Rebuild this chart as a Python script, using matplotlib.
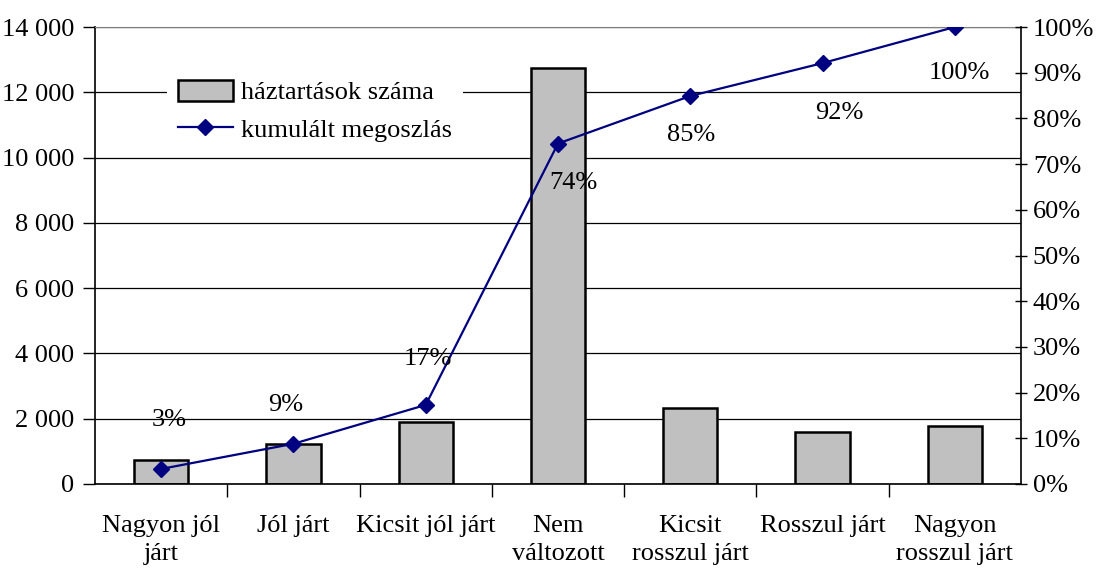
import matplotlib.pyplot as plt
from matplotlib.ticker import FuncFormatter, MultipleLocator

plt.rcParams['font.family'] = ['Liberation Serif', 'DejaVu Serif']
plt.rcParams['font.size'] = 19

categories = ['Nagyon jól\njárt', 'Jól járt', 'Kicsit jól járt', 'Nem\nváltozott',
              'Kicsit\nrosszul járt', 'Rosszul járt', 'Nagyon\nrosszul járt']
households = [730, 1230, 1890, 12740, 2315, 1585, 1765]
cumulative = [3.3, 8.8, 17.3, 74.5, 84.9, 92.1, 100.0]
# label offsets (pixels) as placed in the original chart
label_offsets = [(8, 49), (-8, 39), (2, 46), (15, -39), (1, -39), (17, -50), (5, -46)]

fig = plt.figure(figsize=(11, 5.68), dpi=100)
ax = fig.add_axes([95 / 1100, 84 / 568, 926 / 1100, 457 / 568])
x = list(range(len(categories)))

ax.set_axisbelow(True)
ax.grid(axis='y', color='black', linewidth=0.9)
bars = ax.bar(x, households, width=0.41, color='#c0c0c0', edgecolor='black',
              linewidth=1.8, label='háztartások száma', zorder=2)
ax.set_xlim(-0.5, len(categories) - 0.5)
ax.set_ylim(0, 14000)
ax.yaxis.set_major_locator(MultipleLocator(2000))
ax.yaxis.set_major_formatter(FuncFormatter(lambda v, p: f'{int(v):,}'.replace(',', ' ')))
ax.set_xticks(x)
ax.set_xticklabels(categories, linespacing=1.4)
ax.set_xticks([i + 0.5 for i in x[:-1]], minor=True)
ax.tick_params(axis='x', which='major', length=0, pad=22)
ax.tick_params(axis='x', which='minor', length=9, width=1, direction='out')
ax.tick_params(axis='y', length=9, width=1, direction='out', pad=6)
ax.spines['top'].set_color('#808080')
ax.spines['right'].set_visible(False)
ax.spines['left'].set_linewidth(1.2)
ax.spines['bottom'].set_linewidth(1.2)

ax2 = ax.twinx()
line, = ax2.plot(x, cumulative, color='#000080', linewidth=1.6, marker='D',
                 markersize=8, label='kumulált megoszlás', zorder=3)
ax2.set_ylim(0, 100)
ax2.yaxis.set_major_locator(MultipleLocator(10))
ax2.yaxis.set_major_formatter(FuncFormatter(lambda v, p: f'{int(v)}%'))
ax2.tick_params(axis='y', length=9, width=1, direction='inout', pad=4)
ax2.spines['top'].set_visible(False)
ax2.spines['left'].set_visible(False)
ax2.spines['bottom'].set_visible(False)
ax2.spines['right'].set_linewidth(1.2)

for xi, v, (dx, dy) in zip(x, cumulative, label_offsets):
    ax2.annotate(f'{round(v)}%', (xi, v), xytext=(dx, dy), textcoords='offset pixels',
                 ha='center', va='center', fontsize=19)

leg = ax2.legend([bars, line], ['háztartások száma', 'kumulált megoszlás'],
                 loc='upper left', bbox_to_anchor=(154 / 1100, 1 - 56 / 568),
                 bbox_transform=fig.transFigure, frameon=True, fancybox=False,
                 framealpha=1, handlelength=2.1, handleheight=0.85, handletextpad=0.3,
                 borderpad=0.4, labelspacing=0.5, fontsize=19)
leg.get_frame().set_edgecolor('none')

fig.savefig('out.png', dpi=100)
